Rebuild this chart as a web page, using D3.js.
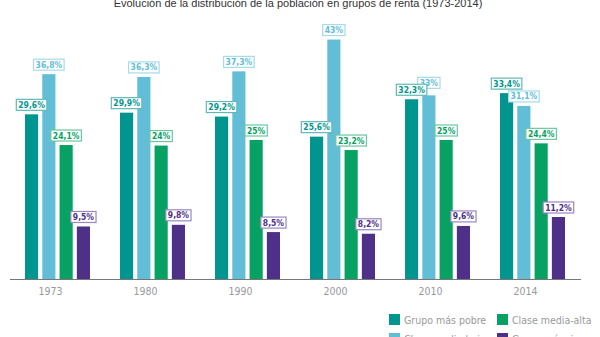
<!DOCTYPE html>
<meta charset="utf-8">
<style>
    body { margin:0; background:#fff; }
    svg { display:block; font-family:'DejaVu Sans Condensed', 'DejaVu Sans', sans-serif; }
</style>
<body>
<script src="https://cdn.jsdelivr.net/npm/d3@7"></script>
<script>
var years = ["1973", "1980", "1990", "2000", "2010", "2014"];
var series = ["Grupo más pobre", "Clase media-baja", "Clase media-alta", "Grupo más rico"];
var colors = ["#00968f", "#62bed6", "#07a163", "#4e3089"];
var boxColors = ["#5fbab5", "#a6dbe8", "#6cc79e", "#9a87c2"];
var pobre     = [29.6, 29.9, 29.2, 25.6, 32.3, 33.4];
var mediaBaja = [36.8, 36.3, 37.3, 43, 33, 31.1];
var mediaAlta = [24.1, 24, 25, 23.2, 25, 24.4];
var rico      = [9.5, 9.8, 8.5, 8.2, 9.6, 11.2];
var values = [pobre, mediaBaja, mediaAlta, rico];
// legend order as in the picture (two columns)
var legendOrder = [0, 2, 1, 3];

var width = 600, height = 337;
var svg = d3.select("body").append("svg")
    .attr("width", width)
    .attr("height", height);

svg.append("text")
    .attr("x", 298).attr("y", 7)
    .attr("text-anchor", "middle")
    .attr("font-family", "'Liberation Sans', Arial, sans-serif")
    .attr("font-size", 11)
    .attr("fill", "#333")
    .text("Evolución de la distribución de la población en grupos de renta (1973-2014)");

var x0 = d3.scaleBand().domain(years).range([25, 565]).paddingInner(0.316).paddingOuter(0);
var x1 = d3.scaleBand().domain(d3.range(4)).range([0, x0.bandwidth()]).paddingInner(0.24);
var y = d3.scaleLinear().domain([0, 50]).range([279.5, 0.5]);

var data = [];
years.forEach(function(yr, i) {
    values.forEach(function(v, s) { data.push({year: yr, s: s, v: v[i]}); });
});
function fmt(v) { return String(v).replace(".", ",") + "%"; }

svg.append("g").selectAll("rect.bar").data(data).enter().append("rect")
    .attr("class", "bar")
    .attr("x", function(d) { return x0(d.year) + x1(d.s); })
    .attr("y", function(d) { return y(d.v); })
    .attr("width", x1.bandwidth())
    .attr("height", function(d) { return y(0) - y(d.v); })
    .attr("fill", function(d) { return colors[d.s]; });

// value labels in boxes; 2010's 33% label is lifted a little, as in the original
function lift(d) { return (d.year === "2010" && d.s === 1) ? 7 : 4; }
var lab = svg.append("g").selectAll("g").data(data.slice().reverse()).enter().append("g")
    .attr("transform", function(d) {
        return "translate(" + (x0(d.year) + x1(d.s) + x1.bandwidth() / 2) + "," + (y(d.v) - lift(d)) + ")";
    });
lab.append("rect").attr("class", "box");
lab.append("text")
    .attr("text-anchor", "middle")
    .attr("y", -2.5)
    .attr("font-size", 8.5)
    .attr("font-weight", "bold")
    .attr("fill", function(d) { return colors[d.s]; })
    .text(function(d) { return fmt(d.v); });
lab.each(function(d) {
    var g = d3.select(this);
    var w = g.select("text").node().getComputedTextLength() + 4;
    g.select("rect")
        .attr("x", -w / 2).attr("y", -11)
        .attr("width", w).attr("height", 11)
        .attr("fill", "#fff")
        .attr("stroke", boxColors[d.s])
        .attr("stroke-width", 1.2);
});

// baseline
svg.append("line")
    .attr("x1", 10).attr("x2", 581)
    .attr("y1", y(0)).attr("y2", y(0))
    .attr("stroke", "#777").attr("stroke-width", 1.2);

svg.append("g").selectAll("text").data(years).enter().append("text")
    .attr("x", function(d) { return x0(d) + x0.bandwidth() / 2 - 7; })
    .attr("y", 295)
    .attr("text-anchor", "middle")
    .attr("font-size", 10.5)
    .attr("fill", "#999")
    .text(function(d) { return d; });

// legend
var leg = svg.append("g").selectAll("g").data(legendOrder).enter().append("g")
    .attr("transform", function(d, i) {
        return "translate(" + (389 + (i % 2) * 108) + "," + (314 + Math.floor(i / 2) * 19) + ")";
    });
leg.append("rect").attr("width", 11).attr("height", 11).attr("fill", function(d) { return colors[d]; });
leg.append("text")
    .attr("x", 15).attr("y", 9.5)
    .attr("font-size", 10.5)
    .attr("fill", "#9a9a9a")
    .text(function(d) { return series[d]; });
</script>
</body>
